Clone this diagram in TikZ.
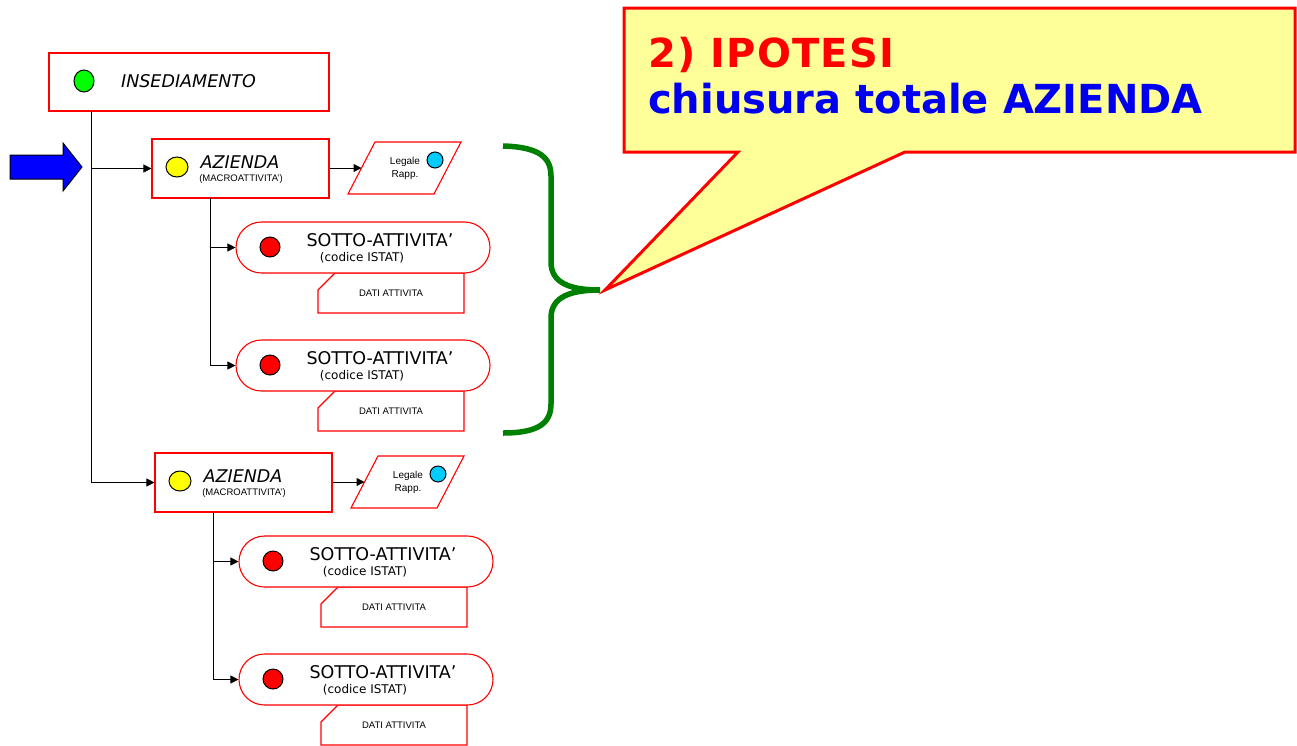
\documentclass[tikz,border=0pt]{standalone}
\usepackage{fontspec}
\setmainfont{DejaVu Sans}
\newfontfamily\arialf{Liberation Sans}
\usetikzlibrary{arrows.meta,shapes.geometric}
\definecolor{calloutfill}{HTML}{FFFF99}
\definecolor{bracegreen}{HTML}{008000}
\definecolor{dotgreen}{HTML}{00FF00}
\definecolor{dotyellow}{HTML}{FFFF00}
\definecolor{dotcyan}{HTML}{00CCFF}
\definecolor{dotred}{HTML}{FF0000}
\definecolor{arrowblue}{HTML}{0000FF}
\definecolor{textblue}{HTML}{0000EE}
\tikzset{
  redbox/.style={draw=red, line width=1.1pt, fill=white, inner sep=0pt},
  dot/.style={draw=black, line width=1pt, ellipse, inner sep=0pt},
  conn/.style={draw=black, line width=1pt, -{Triangle[length=8pt,width=8pt]}},
  trunkline/.style={draw=black, line width=1pt},
  bigital/.style={font=\fontsize{17.5}{20}\selectfont\itshape, anchor=base, inner sep=0pt},
  subtxt/.style={font=\fontsize{17.5}{20}\selectfont, anchor=base, inner sep=0pt},
  codetxt/.style={font=\fontsize{12}{14}\selectfont, anchor=base, inner sep=0pt},
  smalltxt/.style={font=\arialf\fontsize{9.5}{11}\selectfont, anchor=base, inner sep=0pt},
}
\newcommand{\azgroup}[1]{%
  % azienda box
  \node[redbox, minimum width=177pt, minimum height=59pt] (az#1) at (240.5,168.5) {};
  \node[dot, fill=dotyellow, minimum width=22pt, minimum height=20pt] (azdot#1) at (177,167) {};
  \node[bigital] (aztxt#1) at (240,168) {AZIENDA};
  \node[smalltxt] (azsub#1) at (241,181) {(MACROATTIVITA’)};
  % legale rapp parallelogram
  \draw[redbox] (375,142) -- (461,142) -- (434,194) -- (348,194) -- cycle;
  \coordinate (leg#1) at (361.5,168);
  \node[smalltxt, font=\arialf\fontsize{10}{11}\selectfont] (legtxt#1) at (405,164) {Legale};
  \node[smalltxt, font=\arialf\fontsize{10}{11}\selectfont] (rapptxt#1) at (405,177) {Rapp.};
  \node[dot, fill=dotcyan, minimum size=16pt] (legdot#1) at (435,160) {};
  \draw[conn] (az#1.east |- leg#1) -- (leg#1);
  % dati boxes
  \draw[redbox] (335,273) -- (464,273) -- (464,313) -- (318,313) -- (318,290) -- cycle;
  \node[smalltxt] (datiA#1) at (391,296) {DATI ATTIVITA};
  \draw[redbox] (335,391) -- (464,391) -- (464,431) -- (318,431) -- (318,408) -- cycle;
  \node[smalltxt] (datiB#1) at (391,414) {DATI ATTIVITA};
  % sotto-attivita
  \node[redbox, rounded corners=25.5pt, minimum width=254pt, minimum height=51pt] (sotA#1) at (363,247.5) {};
  \node[dot, fill=dotred, minimum size=20pt] (sotAdot#1) at (270,247) {};
  \node[subtxt] (sotAtxt#1) at (380,246) {SOTTO-ATTIVITA’};
  \node[codetxt] (sotAcod#1) at (362,261) {(codice ISTAT)};
  \node[redbox, rounded corners=25.5pt, minimum width=254pt, minimum height=51pt] (sotB#1) at (363,365.5) {};
  \node[dot, fill=dotred, minimum size=20pt] (sotBdot#1) at (270,365) {};
  \node[subtxt] (sotBtxt#1) at (380,364) {SOTTO-ATTIVITA’};
  \node[codetxt] (sotBcod#1) at (362,379) {(codice ISTAT)};
  % branch connectors
  \coordinate (br#1) at (210,198);
  \draw[trunkline] (br#1) -- (br#1 |- sotB#1.west);
  \draw[conn] (br#1 |- sotA#1.west) -- (sotA#1.west);
  \draw[conn] (br#1 |- sotB#1.west) -- (sotB#1.west);
}
\begin{document}
\begin{tikzpicture}[x=1pt, y=-1pt]
\useasboundingbox (0,0) rectangle (1297,745);
\fill[white] (0,0) rectangle (1297,745);

% INSEDIAMENTO
\node[redbox, minimum width=280pt, minimum height=58pt] (ins) at (189,82) {};
\node[dot, fill=dotgreen, minimum width=20pt, minimum height=22pt] (insdot) at (84,81) {};
\node[bigital] (instxt) at (188.5,87) {INSEDIAMENTO};

% groups
\begin{scope}
  \azgroup{1}
\end{scope}
\begin{scope}[shift={(3,314)}]
  \azgroup{2}
\end{scope}

% trunk
\coordinate (trunk) at (91,111);
\draw[trunkline] (trunk) -- (trunk |- az2.west);
\draw[conn] (trunk |- az1.west) -- (az1.west);
\draw[conn] (trunk |- az2.west) -- (az2.west);

% blue arrow
\draw[draw=black, line width=1pt, fill=arrowblue, line join=miter]
  (10,155) -- (63,155) -- (63,143) -- (82,167) -- (63,191) -- (63,179) -- (10,179) -- cycle;

% green brace
\draw[bracegreen, line width=5.5pt, line cap=butt]
  (503,146) .. controls (540,147) and (551,158) .. (551,176)
  -- (551,262) .. controls (551,283) and (570,290) .. (600,290);
\draw[bracegreen, line width=5.5pt, line cap=butt]
  (600,290) .. controls (570,290) and (551,297) .. (551,318)
  -- (551,404) .. controls (551,422) and (540,433) .. (503,433);
\coordinate (bracetip) at (600,290);

% callout
\draw[red, line width=3pt, fill=calloutfill, line join=miter]
  (624,8) -- (1295,8) -- (1295,152) -- (905,152) -- (605,290) -- (738,152) -- (624,152) -- cycle;
\node[anchor=base west, inner sep=0pt, text=red, font=\fontsize{40}{44}\selectfont\bfseries\addfontfeature{LetterSpace=3}] (hyp) at (648,67) {2) IPOTESI};
\node[anchor=base west, inner sep=0pt, text=textblue, font=\fontsize{40}{44}\selectfont\bfseries] (chi) at (648,113) {chiusura totale AZIENDA};
\end{tikzpicture}
\end{document}
